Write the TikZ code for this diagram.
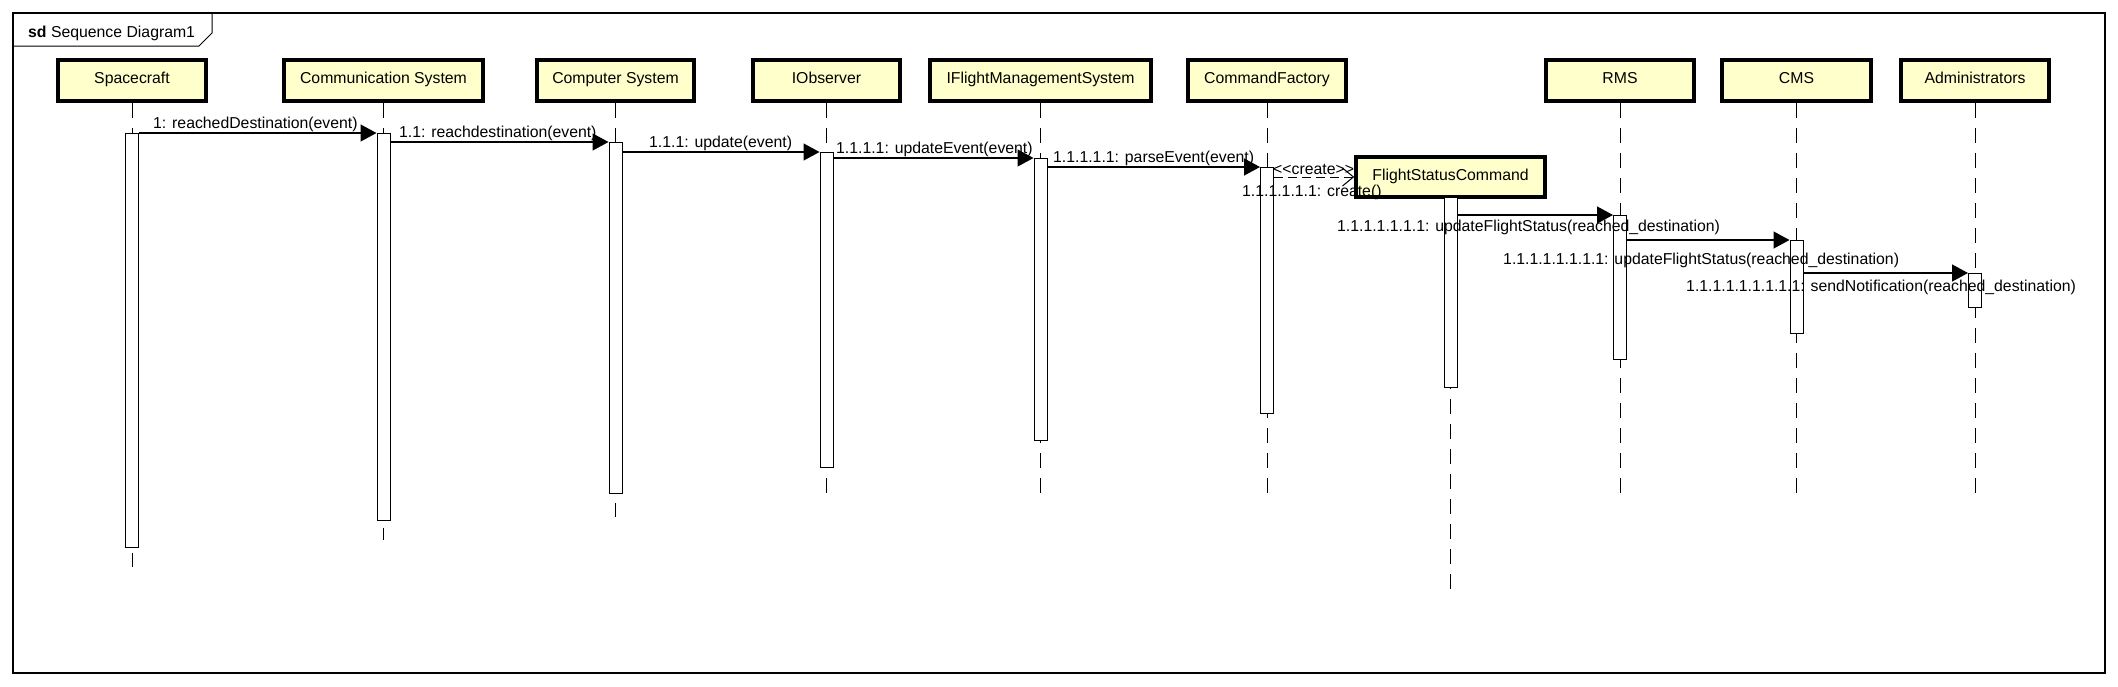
\documentclass[tikz,border=0pt]{standalone}
\usepackage{fontspec}
\setmainfont{Liberation Sans}
\usetikzlibrary{arrows.meta}
\definecolor{headfill}{RGB}{255,255,204}
\begin{document}
\begin{tikzpicture}[x=1pt,y=-1pt,
  every node/.style={font=\fontsize{15.8}{18}\selectfont, inner sep=0pt},
  lifehead/.style={draw, line width=3.5pt, fill=headfill, minimum height=41pt, text height=11.5pt, text depth=5pt, align=center},
  actbar/.style={draw, line width=1pt, fill=white, minimum width=13pt, anchor=north},
  lifeline/.style={line width=1pt, dash pattern=on 15pt off 10pt},
  msg/.style={line width=1.3pt, -{Triangle[length=16pt,width=17pt]}},
  createmsg/.style={line width=1pt, dash pattern=on 9pt off 5pt, -{Straight Barb[length=11pt,width=18pt,line width=1pt]}},
  lbl/.style={anchor=base west},
]
\useasboundingbox (0,0) rectangle (2118,686);
% frame
\draw[line width=1.5pt] (13,13) rectangle (2105,673);
\draw[line width=1pt] (13,46) -- (199,46) -- (212,33) -- (212,13);
\node[anchor=base west] (title) at (28,37) {\textbf{sd} Sequence Diagram1};

% heads
\node[lifehead, minimum width=148pt] (sc) at (132,80.5) {Spacecraft};
\node[lifehead, minimum width=199pt] (cs) at (383.5,80.5) {Communication System};
\node[lifehead, minimum width=157pt] (cp) at (615.5,80.5) {Computer System};
\node[lifehead, minimum width=147pt] (io) at (826.5,80.5) {IObserver};
\node[lifehead, minimum width=221pt] (fm) at (1040.5,80.5) {IFlightManagementSystem};
\node[lifehead, minimum width=158pt] (cf) at (1267,80.5) {CommandFactory};
\node[lifehead, minimum width=148pt] (rm) at (1620,80.5) {RMS};
\node[lifehead, minimum width=149pt] (cm) at (1796.5,80.5) {CMS};
\node[lifehead, minimum width=148pt] (ad) at (1975,80.5) {Administrators};
\node[lifehead, minimum width=189pt, minimum height=40pt] (fs) at (1450.5,177) {FlightStatusCommand};

% lifeline ends
\coordinate (scEnd) at (132,567);
\coordinate (csEnd) at (383.5,540);
\coordinate (cpEnd) at (615.5,517);
\coordinate (ioEnd) at (826.5,500);
\coordinate (fmEnd) at (1040.5,500);
\coordinate (cfEnd) at (1267,500);
\coordinate (fsEnd) at (1450.5,597);
\coordinate (rmEnd) at (1620,500);
\coordinate (cmEnd) at (1796.5,500);
\coordinate (adEnd) at (1975,500);
\foreach \n in {sc,cs,cp,io,fm,cf,fs,rm,cm,ad}{
  \draw[lifeline] (\n.south) -- (\n End);
}

% activation bars
\node[actbar, minimum height=414pt] (bSC) at (132,133) {};
\node[actbar, minimum height=387pt] (bCS) at (383.5,133) {};
\node[actbar, minimum height=351pt] (bCP) at (615.5,142) {};
\node[actbar, minimum height=315pt] (bIO) at (826.5,152) {};
\node[actbar, minimum height=282pt] (bFM) at (1040.5,158) {};
\node[actbar, minimum height=246pt] (bCF) at (1267,167) {};
\node[actbar, minimum height=190pt] (bFS) at (1450.5,197) {};
\node[actbar, minimum height=144pt] (bRM) at (1620,215) {};
\node[actbar, minimum height=93pt] (bCM) at (1796.5,240) {};
\node[actbar, minimum height=34pt] (bAD) at (1975,273) {};

% messages
\draw[msg] (bSC.north east) -- (bCS.north west);
\draw[msg] (bCS.east |- bCP.north) -- (bCP.north west);
\draw[msg] (bCP.east |- bIO.north) -- (bIO.north west);
\draw[msg] (bIO.east |- bFM.north) -- (bFM.north west);
\draw[msg] (bFM.east |- bCF.north) -- (bCF.north west);
\draw[createmsg] (bCF.east |- fs.west) -- (fs.west);
\draw[msg] (bFS.east |- bRM.north) -- (bRM.north west);
\draw[msg] (bRM.east |- bCM.north) -- (bCM.north west);
\draw[msg] (bCM.east |- bAD.north) -- (bAD.north west);

% labels
\node[lbl] (l1) at (153,128) {1: reachedDestination(event)};
\node[lbl] (l2) at (399,137) {1.1: reachdestination(event)};
\node[lbl] (l3) at (649,147) {1.1.1: update(event)};
\node[lbl] (l4) at (836,153) {1.1.1.1: updateEvent(event)};
\node[lbl] (l5) at (1053,162) {1.1.1.1.1: parseEvent(event)};
\node[lbl] (l6) at (1273,174) {<{}<create>{}>};
\node[lbl] (l7) at (1242,196) {1.1.1.1.1.1: create()};
\node[lbl] (l8) at (1337,231) {1.1.1.1.1.1.1: updateFlightStatus(reached\_destination)};
\node[lbl] (l9) at (1503,264) {1.1.1.1.1.1.1.1: updateFlightStatus(reached\_destination)};
\node[lbl] (l10) at (1686,291) {1.1.1.1.1.1.1.1.1: sendNotification(reached\_destination)};
\end{tikzpicture}
\end{document}
